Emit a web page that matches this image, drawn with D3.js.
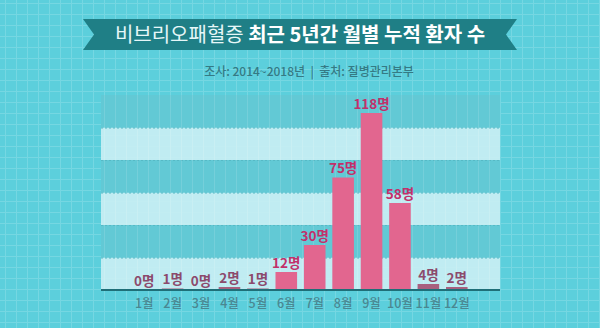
<!DOCTYPE html>
<html>
<head>
<meta charset="utf-8">
<script src="https://cdn.jsdelivr.net/npm/d3@7"></script>
<style>
  html, body { margin: 0; padding: 0; background: #5ccfdc; }
  svg { display: block; font-family: "Noto Sans CJK KR", "Noto Sans", sans-serif; }
</style>
</head>
<body>
<div id="chart"></div>
<script>
const months = ["1월", "2월", "3월", "4월", "5월", "6월", "7월", "8월", "9월", "10월", "11월", "12월"];
const patients = [0, 1, 0, 2, 1, 12, 30, 75, 118, 58, 4, 2];
const titleLight = "비브리오패혈증 ";
const titleBold = "최근 5년간 월별 누적 환자 수";
const subtitle = "조사: 2014~2018년  |  출처: 질병관리본부";
const unit = "명";

const width = 600, height = 328;
const panel = { left: 101, right: 500, top: 95, bottom: 290 };

const svg = d3.select("#chart")
    .append("svg")
    .attr("width", width)
    .attr("height", height);

// graph-paper background
svg.append("rect").attr("width", width).attr("height", height).attr("fill", "#5ccfdc");
const grid = svg.append("g").attr("stroke", "#8ee0e9").attr("stroke-width", 1).attr("opacity", 0.5);
d3.range(5.5, width, 11).forEach(x => grid.append("line").attr("x1", x).attr("x2", x).attr("y1", 0).attr("y2", height));
d3.range(3.5, height, 11).forEach(y => grid.append("line").attr("x1", 0).attr("x2", width).attr("y1", y).attr("y2", y));

// title ribbon
const rb = { x0: 83, x1: 517, y0: 19, y1: 50, notch: 11 };
const midY = (rb.y0 + rb.y1) / 2;
svg.append("path")
    .attr("d", `M${rb.x0},${rb.y0} L${rb.x1},${rb.y0} L${rb.x1 - rb.notch},${midY} L${rb.x1},${rb.y1} L${rb.x0},${rb.y1} L${rb.x0 + rb.notch},${midY} Z`)
    .attr("fill", "#1f7f86");

const title = svg.append("text")
    .attr("x", width / 2)
    .attr("y", 42)
    .attr("text-anchor", "middle")
    .attr("font-size", 20)
    .attr("fill", "#e6f7f8");
title.append("tspan").attr("font-weight", 400).text(titleLight);
title.append("tspan").attr("font-weight", 700).attr("fill", "#ffffff").text(titleBold);

svg.append("text")
    .attr("x", 309)
    .attr("y", 76)
    .attr("text-anchor", "middle")
    .attr("font-size", 12)
    .attr("font-weight", 500)
    .attr("fill", "#357a84")
    .attr("xml:space", "preserve")
    .text(subtitle);

// scales
const x = d3.scaleBand()
    .domain(months)
    .range([130, 471])
    .paddingInner(0.24)
    .paddingOuter(0.12);

const y = d3.scaleLinear()
    .domain([0, 130])
    .range([panel.bottom, panel.top]);

// alternating bands behind the bars
const bandTicks = d3.range(0, 6).map(i => i * 130 / 6);
svg.append("g").selectAll("rect")
    .data(bandTicks)
    .join("rect")
    .attr("x", panel.left)
    .attr("width", panel.right - panel.left)
    .attr("y", d => y(d + 130 / 6))
    .attr("height", d => y(d) - y(d + 130 / 6))
    .attr("fill", (d, i) => i % 2 === 0 ? "#c9eff3" : "#62c9d5")
    .attr("opacity", (d, i) => i % 2 === 0 ? 0.92 : 1);

svg.append("g").selectAll("line")
    .data(bandTicks.slice(1))
    .join("line")
    .attr("x1", panel.left)
    .attr("x2", panel.right)
    .attr("y1", d => y(d) + 0.5)
    .attr("y2", d => y(d) + 0.5)
    .attr("stroke", "#56b9c5")
    .attr("stroke-width", 1)
    .attr("stroke-dasharray", "2,2");

// faint grid over the panel
const inner = svg.append("g").attr("stroke", "#ffffff").attr("opacity", 0.12);
d3.range(5.5, width, 11).filter(v => v > panel.left && v < panel.right)
    .forEach(v => inner.append("line").attr("x1", v).attr("x2", v).attr("y1", panel.top).attr("y2", panel.bottom));

// bars
const small = d => d < 10;
svg.append("g").selectAll("rect")
    .data(patients)
    .join("rect")
    .attr("x", (d, i) => x(months[i]))
    .attr("width", x.bandwidth())
    .attr("y", d => y(d))
    .attr("height", d => y(0) - y(d))
    .attr("fill", d => small(d) ? "#a8607f" : "#e2668f");

// value labels
svg.append("g").selectAll("text")
    .data(patients)
    .join("text")
    .attr("x", (d, i) => x(months[i]) + x.bandwidth() / 2)
    .attr("y", d => y(d) - 4.5)
    .attr("text-anchor", "middle")
    .attr("font-size", 13.5)
    .attr("font-weight", 700)
    .attr("fill", d => small(d) ? "#8c4a6c" : "#c2306a")
    .text(d => d + unit);

// baseline
svg.append("line")
    .attr("x1", panel.left)
    .attr("x2", panel.right)
    .attr("y1", panel.bottom)
    .attr("y2", panel.bottom)
    .attr("stroke", "#1f6f78")
    .attr("stroke-width", 2);

// month axis
const axis = svg.append("g")
    .attr("transform", `translate(0,${panel.bottom})`)
    .call(d3.axisBottom(x).tickSize(0).tickPadding(9));
axis.select(".domain").remove();
axis.selectAll("text")
    .attr("font-size", 12.5)
    .attr("font-weight", 500)
    .attr("font-family", "\"Noto Sans CJK KR\", sans-serif")
    .attr("fill", "#4a8791");
</script>
</body>
</html>
